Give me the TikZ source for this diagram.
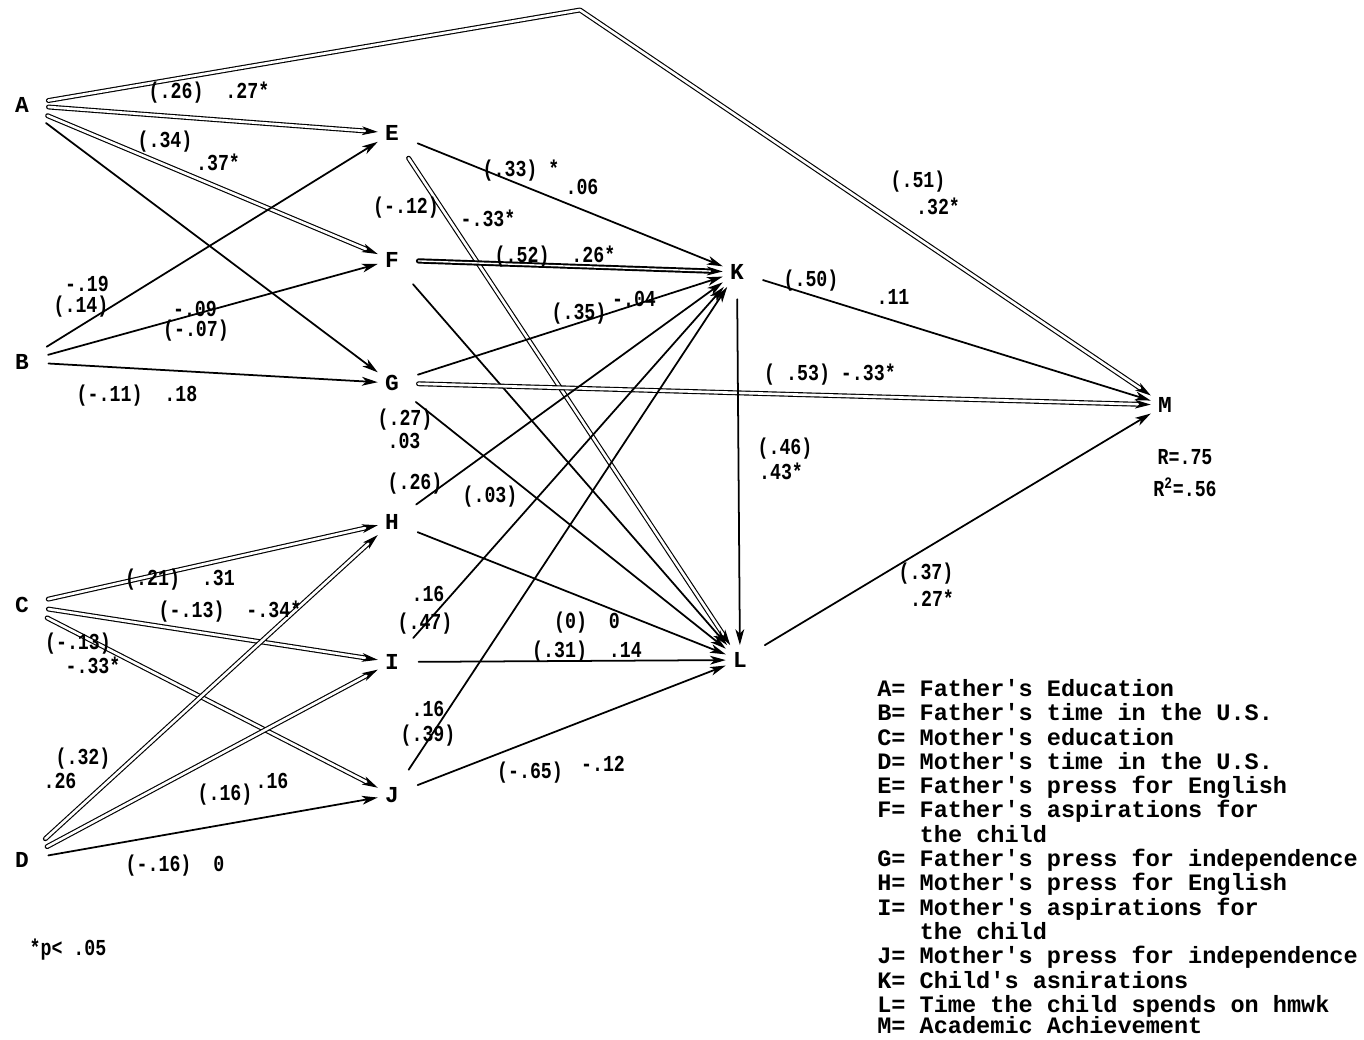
\documentclass[tikz,border=0pt]{standalone}
\usepackage{fontspec}
\setmonofont{Liberation Mono}
\newfontfamily\lblfont{Liberation Mono}[FakeStretch=0.8]
\usetikzlibrary{arrows.meta}
\tikzset{
  var/.style={font=\ttfamily\bfseries\fontsize{13}{15}\selectfont,inner sep=4pt},
  lbl/.style={font=\lblfont\bfseries\fontsize{13}{15}\selectfont,inner sep=0pt},
  one/.style={line width=1pt,shorten <=7pt},
  twin/.style={double,double distance=1.5pt,line width=0.65pt,shorten <=7pt}
}

\begin{document}
\begin{tikzpicture}[line cap=round,line join=round,
  >={Stealth[length=9pt,width=5pt,inset=2.5pt]},x=0.02cm,y=-0.02cm]
  \useasboundingbox (0,0) rectangle (1364,1039);
  \node[var] (A) at (22,105) {A};
  \node[var] (B) at (22,362) {B};
  \node[var] (C) at (22,605) {C};
  \node[var] (D) at (22,860) {D};
  \node[var] (E) at (392,133) {E};
  \node[var] (F) at (392,260) {F};
  \node[var] (G) at (392,383) {G};
  \node[var] (H) at (392,522) {H};
  \node[var] (I) at (392,662) {I};
  \node[var] (J) at (392,795) {J};
  \node[var] (K) at (737,272) {K};
  \node[var] (L) at (740,660) {L};
  \node[var] (M) at (1165,405) {M};
  \coordinate (top) at (580,10);
  \draw [twin,->] (A) -- (top) -- (M);
  \draw [twin,->] (A) -- (E);
  \draw [twin,->] (A) -- (F);
  \draw [one,->] (A) -- (G);
  \draw [one,->] (B) -- (E);
  \draw [one,->] (B) -- (F);
  \draw [one,->] (B) -- (G);
  \draw [twin,->] (C) -- (H);
  \draw [twin,->] (C) -- (I);
  \draw [twin,->] (C) -- (J);
  \draw [twin,->] (D) -- (H);
  \draw [twin,->] (D) -- (I);
  \draw [one,->] (D) -- (J);
  \draw [one,->] (E) -- (K);
  \draw [twin,->] (E) -- (L);
  \draw [twin,line width=1.1pt,double distance=0.8pt,->] (F) -- (K);
  \draw [one,->] (F) -- (L);
  \draw [one,->] (G) -- (K);
  \draw [twin,->] (G) -- (M);
  \draw [one,->] (G) -- (L);
  \draw [one,->] (H) -- (K);
  \draw [one,->] (H) -- (L);
  \draw [one,->] (I) -- (K);
  \draw [one,->] (I) -- (L);
  \draw [one,->] (J) -- (K);
  \draw [one,->] (J) -- (L);
  \draw [one,->] (K) -- (L);
  \draw [one,->] (K) -- (M);
  \draw [one,->] (L) -- (M);
  \node[lbl] (t1) at (209,93) {(.26)~~.27*};
  \node[lbl] (t2) at (165,142) {(.34)};
  \node[lbl] (t3) at (218,162) {.37*};
  \node[lbl] (t4) at (87,284) {-.19};
  \node[lbl] (t5) at (81,307) {(.14)};
  \node[lbl] (t6) at (195,309) {-.09};
  \node[lbl] (t7) at (196,331) {(-.07)};
  \node[lbl] (t8) at (137,396) {(-.11)~~.18};
  \node[lbl] (t9) at (521,171) {(.33)~*};
  \node[lbl] (t10) at (582,187) {.06};
  \node[lbl] (t11) at (406,208) {(-.12)};
  \node[lbl] (t12) at (488,218) {-.33*};
  \node[lbl] (t13) at (555,257) {(.52)~~.26*};
  \node[lbl] (t14) at (579,314) {(.35)};
  \node[lbl] (t15) at (634,299) {-.04};
  \node[lbl] (t16) at (918,182) {(.51)};
  \node[lbl] (t17) at (938,206) {.32*};
  \node[lbl] (t18) at (811,281) {(.50)};
  \node[lbl] (t19) at (893,297) {.11};
  \node[lbl] (t20) at (830,375) {(~.53)~-.33*};
  \node[lbl] (t21) at (785,449) {(.46)};
  \node[lbl] (t22) at (781,471) {.43*};
  \node[lbl] (t23) at (405,420) {(.27)};
  \node[lbl] (t24) at (404,441) {.03};
  \node[lbl] (t25) at (415,484) {(.26)};
  \node[lbl] (t26) at (490,497) {(.03)};
  \node[lbl] (t27) at (428,594) {.16};
  \node[lbl] (t28) at (425,624) {(.47)};
  \node[lbl] (t29) at (587,623) {(0)~~0};
  \node[lbl] (t30) at (587,652) {(.31)~~.14};
  \node[lbl] (t31) at (428,709) {.16};
  \node[lbl] (t32) at (428,736) {(.39)};
  \node[lbl] (t33) at (530,773) {(-.65)};
  \node[lbl] (t34) at (603,764) {-.12};
  \node[lbl] (t35) at (926,574) {(.37)};
  \node[lbl] (t36) at (932,598) {.27*};
  \node[lbl] (t37) at (180,580) {(.21)~~.31};
  \node[lbl] (t38) at (230,612) {(-.13)~~-.34*};
  \node[lbl] (t39) at (78,644) {(-.13)};
  \node[lbl] (t40) at (93,665) {-.33*};
  \node[lbl] (t41) at (83,759) {(.32)};
  \node[lbl] (t42) at (60,781) {.26};
  \node[lbl] (t43) at (225,795) {(.16)};
  \node[lbl] (t44) at (272,781) {.16};
  \node[lbl] (t45) at (175,866) {(-.16)~~0};
  \node[lbl] (t46) at (1185,457) {R=.75};
  \node[lbl] (t47) at (1185,487) {R\textsuperscript{2}=.56};
  \node[lbl] (t48) at (68,950) {*p<~.05};
  \node[anchor=north west,inner sep=0pt,align=left,
    font=\ttfamily\bfseries\fontsize{13.4}{13.83}\selectfont] (key) at (877,679)
    {A= Father's Education\\
     B= Father's time in the U.S.\\
     C= Mother's education\\
     D= Mother's time in the U.S.\\
     E= Father's press for English\\
     F= Father's aspirations for\\
     \hphantom{F= }the child\\
     G= Father's press for independence\\
     H= Mother's press for English\\
     I= Mother's aspirations for\\
     \hphantom{I= }the child\\
     J= Mother's press for independence\\
     K= Child's asnirations\\
     L= Time the child spends on hmwk\\[-1.5pt]
     M= Academic Achievement};
\end{tikzpicture}
\end{document}
